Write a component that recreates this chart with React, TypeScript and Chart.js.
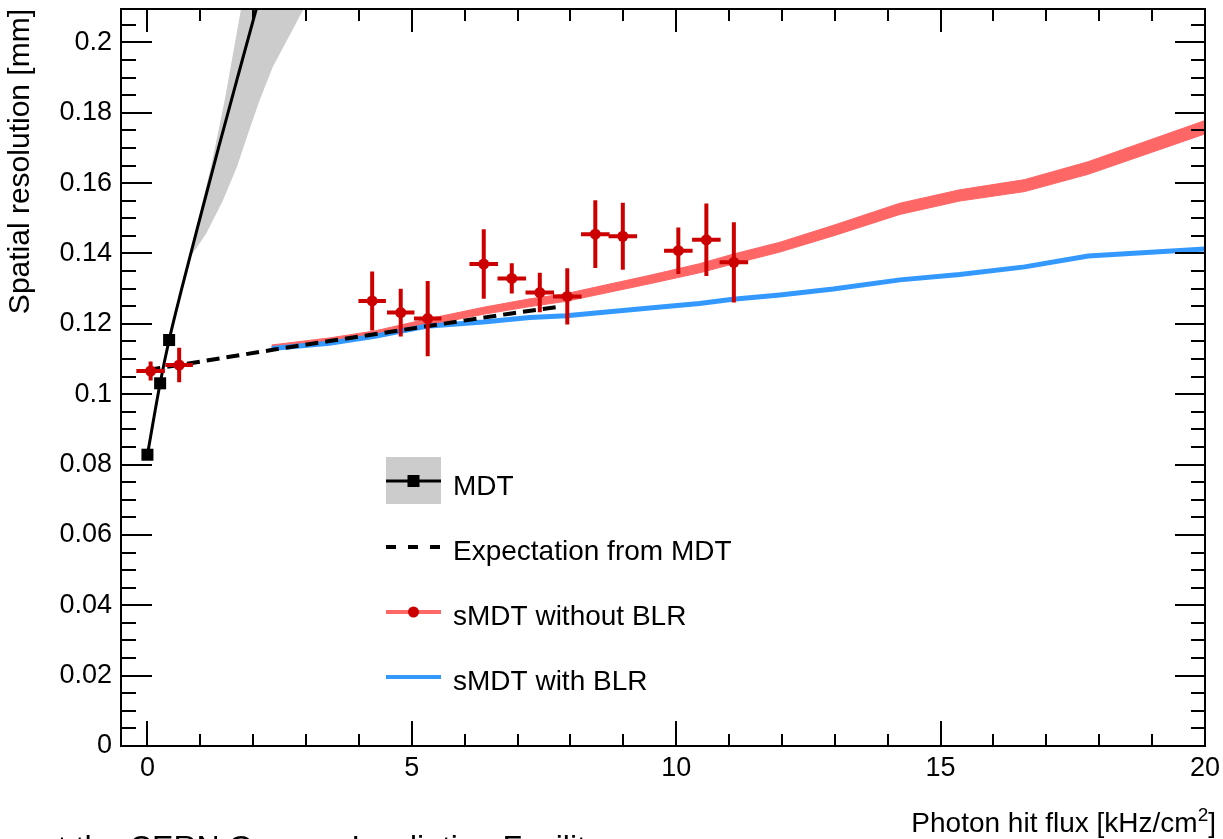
import React, { useEffect, useRef } from 'react';
import Chart from 'chart.js/auto';

const FONT = "'Liberation Sans', Arial, Helvetica, sans-serif";

// MDT measured points
const mdtX = [0, 0.24, 0.41];
const mdtY = [0.0828, 0.1031, 0.1154];

// MDT fit curve
const mdtFitX = [0, 0.24, 0.41, 0.645, 0.989, 1.34, 1.698, 2.062, 2.221];
const mdtFitY = [0.0828, 0.1031, 0.1154, 0.1298, 0.1498, 0.1698, 0.1897, 0.2097, 0.2182];

// MDT uncertainty band (outline: upper edge, then lower edge back)
const bandX = [0.8, 1.02, 1.2, 1.46, 1.764, 1.83, 3.15, 2.936, 2.37, 2.12, 1.9, 1.69, 1.425, 1.11, 0.8];
const bandY = [0.1388, 0.1535, 0.1645, 0.1835, 0.209, 0.215, 0.215, 0.209, 0.193, 0.1835, 0.174, 0.1645, 0.155, 0.1456, 0.1388];

// Expectation from MDT (dashed)
const expX = [0, 0.6, 2.4, 3.44, 5.27, 6.85, 7.85];
const expY = [0.1069, 0.1083, 0.1127, 0.1151, 0.1193, 0.1229, 0.125];

// sMDT simulations
const simX = [2.35, 3.44, 4.3, 5.27, 6.35, 7.23, 7.92, 9.5, 10.44, 11.07, 11.96, 12.97, 14.23, 15.36, 16.59, 17.79, 20];
const noBlrY = [0.1133, 0.1152, 0.1172, 0.1204, 0.1237, 0.126, 0.1275, 0.1326, 0.1358, 0.1384, 0.1418, 0.1465, 0.1527, 0.1565, 0.1593, 0.1643, 0.1759];
const noBlrErr = [0.0007, 0.0008, 0.0008, 0.0009, 0.001, 0.0011, 0.0011, 0.0012, 0.0013, 0.0014, 0.0014, 0.0015, 0.0016, 0.0016, 0.0017, 0.0018, 0.0019];
const blrY = [0.113, 0.1145, 0.1165, 0.1193, 0.1205, 0.1218, 0.1223, 0.1245, 0.1258, 0.127, 0.1282, 0.1299, 0.1325, 0.134, 0.1362, 0.1393, 0.1413];

// sMDT without BLR measurements
const redX = [0.06, 0.6, 4.25, 4.79, 5.3, 6.36, 6.89, 7.42, 7.94, 8.47, 8.99, 10.04, 10.57, 11.09];
const redY = [0.1066, 0.1083, 0.1265, 0.1232, 0.1215, 0.137, 0.1329, 0.1289, 0.1278, 0.1455, 0.1449, 0.1408, 0.1439, 0.1375];
const redYErr = [0.0027, 0.0049, 0.0084, 0.0068, 0.0107, 0.0099, 0.0043, 0.0056, 0.008, 0.0096, 0.0095, 0.0066, 0.0103, 0.0114];
const redXErr = [0.27, 0.26, 0.26, 0.26, 0.26, 0.27, 0.27, 0.27, 0.27, 0.27, 0.27, 0.27, 0.27, 0.27];

// axis ticks
const xTickStep = 5;
const yTickStep = 0.02;

const RED = 'rgb(204,0,0)';
const SALMON = 'rgb(255,102,102)';
const BLUE = 'rgb(51,153,255)';
const GRAY = 'rgb(204,204,204)';

const pts = (xs: number[], ys: number[]) => xs.map((x, i) => ({ x, y: ys[i] }));

const errorBarPlugin = {
  id: 'errorBars',
  afterDatasetsDraw(chart: any) {
    const { ctx, chartArea: a, scales } = chart;
    const xs = scales.x, ys = scales.y;
    ctx.save();
    ctx.beginPath();
    ctx.rect(a.left, a.top, a.right - a.left, a.bottom - a.top);
    ctx.clip();
    ctx.strokeStyle = RED;
    ctx.lineWidth = 4;
    ctx.beginPath();
    for (let i = 0; i < redX.length; i++) {
      const px = xs.getPixelForValue(redX[i]);
      const py = ys.getPixelForValue(redY[i]);
      ctx.moveTo(px, ys.getPixelForValue(redY[i] - redYErr[i]));
      ctx.lineTo(px, ys.getPixelForValue(redY[i] + redYErr[i]));
      ctx.moveTo(xs.getPixelForValue(redX[i] - redXErr[i]), py);
      ctx.lineTo(xs.getPixelForValue(redX[i] + redXErr[i]), py);
    }
    ctx.stroke();
    ctx.restore();
  },
};

const framePlugin = {
  id: 'rootFrame',
  afterDraw(chart: any) {
    const { ctx, chartArea: a, scales } = chart;
    const xs = scales.x, ys = scales.y;
    ctx.save();
    ctx.strokeStyle = '#000';
    ctx.lineWidth = 2;
    ctx.beginPath();
    for (let i = Math.ceil(xs.min); i <= xs.max; i++) {
      const px = Math.round(xs.getPixelForValue(i));
      const major = i % 5 === 0;
      ctx.moveTo(px, a.bottom);
      ctx.lineTo(px, a.bottom - (major ? 25 : 12));
      ctx.moveTo(px, a.top);
      ctx.lineTo(px, a.top + (major ? 23 : 12));
    }
    for (let j = 0; j * 0.005 <= ys.max; j++) {
      const py = Math.round(ys.getPixelForValue(j * 0.005));
      const major = j % 4 === 0;
      ctx.moveTo(a.left, py);
      ctx.lineTo(a.left + (major ? 31 : 15), py);
      ctx.moveTo(a.right, py);
      ctx.lineTo(a.right - (major ? 30 : 14), py);
    }
    ctx.stroke();
    ctx.strokeRect(a.left, a.top, a.right - a.left, a.bottom - a.top);

    // legend
    const lx0 = 386, lx1 = 441, lxm = 413.5, tx = 453;
    ctx.fillStyle = GRAY;
    ctx.fillRect(lx0, 457, lx1 - lx0, 47);
    ctx.strokeStyle = '#000';
    ctx.lineWidth = 3;
    ctx.beginPath(); ctx.moveTo(lx0, 481); ctx.lineTo(lx1, 481); ctx.stroke();
    ctx.fillStyle = '#000';
    ctx.fillRect(lxm - 6, 475, 12, 12);
    ctx.lineWidth = 4;
    ctx.setLineDash([10, 12]);
    ctx.beginPath(); ctx.moveTo(lx0, 547); ctx.lineTo(lx1, 547); ctx.stroke();
    ctx.setLineDash([]);
    ctx.strokeStyle = SALMON;
    ctx.beginPath(); ctx.moveTo(lx0, 612); ctx.lineTo(lx1, 612); ctx.stroke();
    ctx.fillStyle = RED;
    ctx.beginPath(); ctx.arc(lxm, 612, 5.5, 0, Math.PI * 2); ctx.fill();
    ctx.strokeStyle = BLUE;
    ctx.beginPath(); ctx.moveTo(lx0, 677); ctx.lineTo(lx1, 677); ctx.stroke();

    ctx.fillStyle = '#000';
    ctx.font = `28px ${FONT}`;
    ctx.textAlign = 'left';
    ctx.textBaseline = 'alphabetic';
    ctx.fillText('MDT', tx, 495);
    ctx.fillText('Expectation from MDT', tx, 560);
    ctx.fillText('sMDT without BLR', tx, 625);
    ctx.fillText('sMDT with BLR', tx, 690);

    // x axis title with superscript
    const main = 'Photon hit flux [kHz/cm';
    ctx.font = `28px ${FONT}`;
    const wMain = ctx.measureText(main).width;
    const wClose = ctx.measureText(']').width;
    ctx.font = `19px ${FONT}`;
    const wSup = ctx.measureText('2').width;
    const right = 1216;
    const start = right - wClose - wSup - wMain;
    ctx.font = `28px ${FONT}`;
    ctx.fillText(main, start, 832);
    ctx.fillText(']', right - wClose, 832);
    ctx.font = `19px ${FONT}`;
    ctx.fillText('2', start + wMain, 821);

    // caption cut at the bottom of the picture
    ctx.font = `32px ${FONT}`;
    ctx.fillText('at the CERN Gamma Irradiation Facility', 40, 858);
    ctx.restore();
  },
};

export default function App() {
  const ref = useRef<HTMLCanvasElement | null>(null);

  useEffect(() => {
    if (!ref.current) return;
    Chart.defaults.font.family = FONT;
    Chart.defaults.color = '#000';

    const noBlrBand = [
      ...simX.map((x, i) => ({ x, y: noBlrY[i] + noBlrErr[i] })),
      ...simX.map((x, i) => ({ x, y: noBlrY[i] - noBlrErr[i] })).reverse(),
    ];

    const chart = new Chart(ref.current, {
      type: 'line',
      data: {
        datasets: [
          {
            label: 'sMDT without BLR data',
            data: pts(redX, redY),
            showLine: false,
            pointRadius: 5.5,
            pointBackgroundColor: RED,
            pointBorderColor: RED,
            pointBorderWidth: 0,
            order: 0,
          },
          {
            label: 'MDT',
            data: pts(mdtX, mdtY),
            showLine: false,
            pointStyle: 'rect',
            pointRadius: 8.5,
            pointBackgroundColor: '#000',
            pointBorderColor: '#000',
            pointBorderWidth: 0,
            order: 1,
          },
          {
            label: 'MDT fit',
            data: pts(mdtFitX, mdtFitY),
            borderColor: '#000',
            borderWidth: 3,
            pointRadius: 0,
            cubicInterpolationMode: 'monotone',
            order: 2,
          },
          {
            label: 'Expectation from MDT',
            data: pts(expX, expY),
            borderColor: '#000',
            borderWidth: 4,
            borderDash: [13, 7],
            pointRadius: 0,
            order: 3,
          },
          {
            label: 'sMDT with BLR',
            data: pts(simX, blrY),
            borderColor: BLUE,
            borderWidth: 5,
            pointRadius: 0,
            order: 4,
          },
          {
            label: 'sMDT without BLR',
            data: noBlrBand,
            borderColor: SALMON,
            backgroundColor: SALMON,
            borderWidth: 1,
            fill: 'shape',
            pointRadius: 0,
            order: 5,
          },
          {
            label: 'MDT band',
            data: pts(bandX, bandY),
            borderColor: 'rgba(0,0,0,0)',
            backgroundColor: GRAY,
            borderWidth: 0,
            fill: 'shape',
            pointRadius: 0,
            order: 6,
          },
        ],
      },
      options: {
        animation: false,
        responsive: false,
        devicePixelRatio: 1,
        events: [],
        layout: { padding: { top: 9, right: 18, left: 0, bottom: 0 } },
        plugins: {
          legend: { display: false },
          tooltip: { enabled: false },
        },
        scales: {
          x: {
            type: 'linear',
            min: -0.5,
            max: 20,
            border: { display: false },
            grid: { display: true, drawOnChartArea: false, drawTicks: true, tickLength: 6, color: 'rgba(0,0,0,0)' },
            ticks: {
              stepSize: xTickStep,
              includeBounds: false,
              maxTicksLimit: 20,
              padding: 0,
              maxRotation: 0,
              color: '#000',
              font: { size: 27, family: FONT },
              callback: (v: any) => String(Math.round(Number(v) * 1000) / 1000),
            },
            title: { display: false },
            afterFit: (s: any) => { s.height = 93; },
          },
          y: {
            type: 'linear',
            min: 0,
            max: 0.2095,
            border: { display: false },
            grid: { display: true, drawOnChartArea: false, drawTicks: true, tickLength: 9, color: 'rgba(0,0,0,0)' },
            ticks: {
              stepSize: yTickStep,
              includeBounds: false,
              maxTicksLimit: 20,
              padding: 0,
              color: '#000',
              font: { size: 27, family: FONT, lineHeight: 0.5 },
              callback: (v: any) => String(Math.round(Number(v) * 1000) / 1000),
            },
            title: {
              display: true,
              text: 'Spatial resolution [mm]',
              align: 'end',
              color: '#000',
              font: { size: 30, family: FONT },
              padding: { top: 3, bottom: 0 },
            },
            afterFit: (s: any) => { s.width = 121; },
          },
        },
      },
      plugins: [errorBarPlugin, framePlugin],
    } as any);

    return () => chart.destroy();
  }, []);

  return (
    <div style={{ position: 'fixed', left: 0, top: 0, width: 1223, height: 839, background: '#fff', overflow: 'hidden' }}>
      <canvas ref={ref} width={1223} height={839} style={{ display: 'block' }} />
    </div>
  );
}
